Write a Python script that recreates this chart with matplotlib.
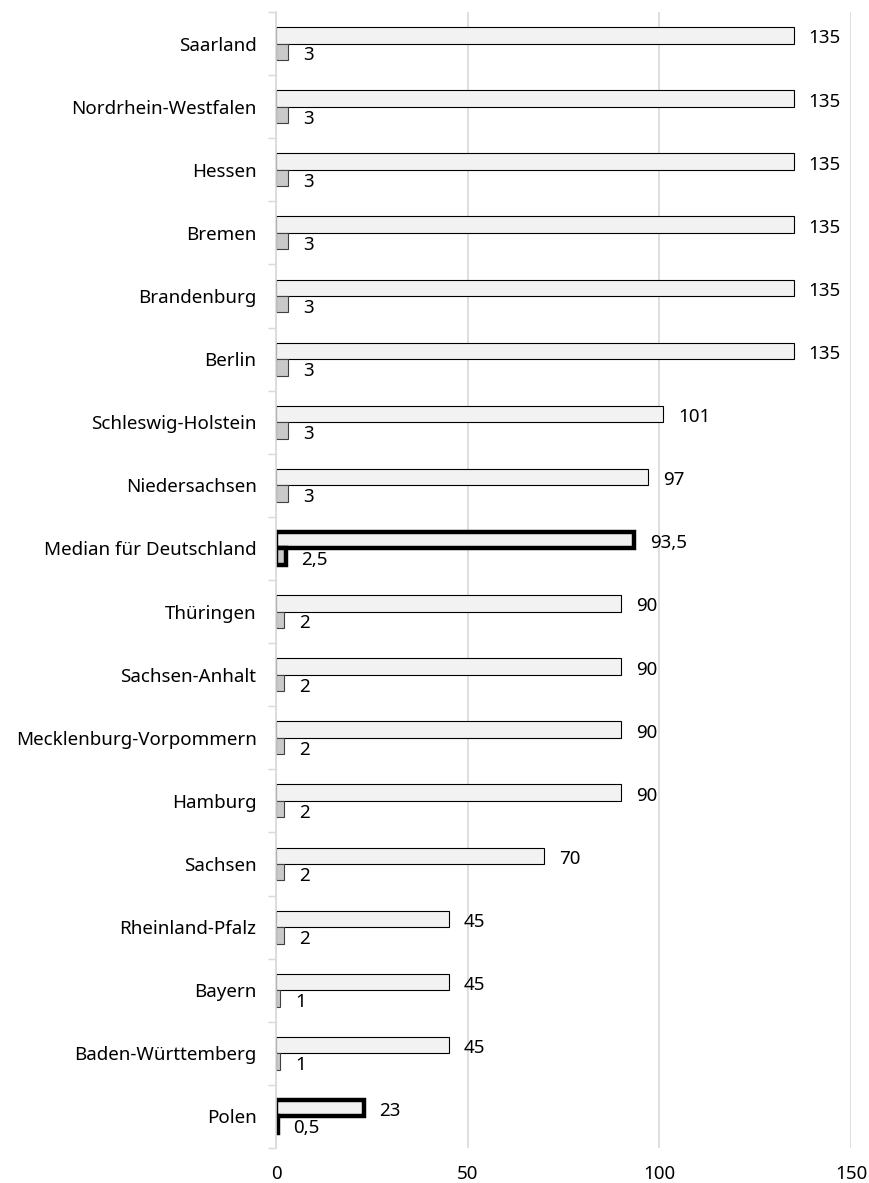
import numpy as np
import matplotlib
matplotlib.use("Agg")
import matplotlib.pyplot as plt
from matplotlib.ticker import FixedLocator

plt.rcParams["font.family"] = ["Noto Sans", "DejaVu Sans"]

laender = ["Saarland", "Nordrhein-Westfalen", "Hessen", "Bremen", "Brandenburg",
           "Berlin", "Schleswig-Holstein", "Niedersachsen", "Median für Deutschland",
           "Thüringen", "Sachsen-Anhalt", "Mecklenburg-Vorpommern", "Hamburg",
           "Sachsen", "Rheinland-Pfalz", "Bayern", "Baden-Württemberg", "Polen"]
wert_gross = [135, 135, 135, 135, 135, 135, 101, 97, 93.5,
              90, 90, 90, 90, 70, 45, 45, 45, 23]
wert_klein = [3, 3, 3, 3, 3, 3, 3, 3, 2.5,
              2, 2, 2, 2, 2, 2, 1, 1, 0.5]
hervorgehoben = ["Median für Deutschland", "Polen"]
x_ticks = [0, 50, 100, 150]


def fmt(v):
    return f"{v:g}".replace(".", ",")


fig = plt.figure(figsize=(8.7, 11.83), dpi=100)
ax = fig.add_axes([276 / 870, 1 - 1148 / 1183, 575 / 870, 1136 / 1183])

n = len(laender)
y = n - 1 - np.arange(n)   # first entry on top
h = 0.26
fs = 13.5

for i, name in enumerate(laender):
    thick = name in hervorgehoben
    lw = 3.2 if thick else 0.8
    ax.barh(y[i] + h / 2, wert_gross[i], height=h, color="#f2f2f2",
            edgecolor="black", linewidth=lw, zorder=3)
    ax.barh(y[i] - h / 2, wert_klein[i], height=h, color="#c9c9c9",
            edgecolor="black" if thick else "#404040", linewidth=lw, zorder=3)
    ax.annotate(fmt(wert_gross[i]), (wert_gross[i], y[i] + h / 2),
                textcoords="offset points", xytext=(11, -0.8),
                ha="left", va="center_baseline", fontsize=fs)
    ax.annotate(fmt(wert_klein[i]), (wert_klein[i], y[i] - h / 2),
                textcoords="offset points", xytext=(11, -1.2),
                ha="left", va="center_baseline", fontsize=fs)

ax.set_xlim(0, 150)
ax.set_ylim(-0.5, n - 0.5)
ax.set_xticks(x_ticks)
ax.set_yticks(y)
ax.set_yticklabels(laender)
ax.yaxis.set_minor_locator(FixedLocator(np.arange(-0.5, n, 1.0)))
ax.tick_params(axis="y", which="major", length=0, pad=14, labelsize=fs)
ax.tick_params(axis="y", which="minor", length=6, color="#d9d9d9", width=1)
ax.tick_params(axis="x", length=0, pad=12, labelsize=fs)
ax.grid(axis="x", color="#d9d9d9", linewidth=1.2, zorder=0)
for s in ("top", "right", "bottom"):
    ax.spines[s].set_visible(False)
ax.spines["left"].set_color("#d9d9d9")
ax.spines["left"].set_linewidth(1.2)
ax.spines["left"].set_zorder(4)

fig.savefig("out.png", dpi=100)
